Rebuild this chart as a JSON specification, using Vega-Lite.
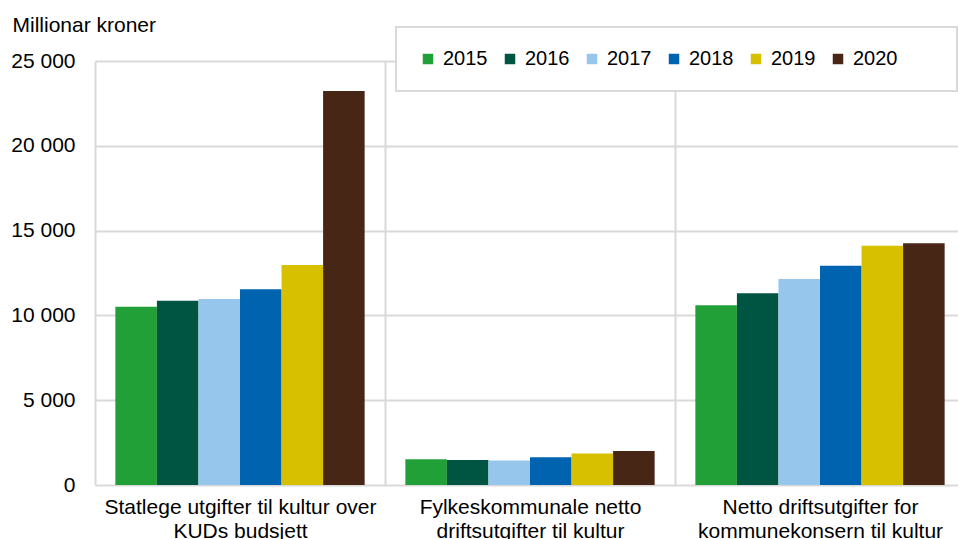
{
  "$schema": "https://vega.github.io/schema/vega-lite/v6.json",
  "width": 870,
  "height": 424,
  "autosize": "none",
  "padding": {"left": 95, "top": 61, "right": 0, "bottom": 54},
  "background": "white",
  "data": {
    "values": [
      {"category": "Statlege utgifter til kultur over|KUDs budsjett", "year": "2015", "value": 10510},
      {"category": "Statlege utgifter til kultur over|KUDs budsjett", "year": "2016", "value": 10870},
      {"category": "Statlege utgifter til kultur over|KUDs budsjett", "year": "2017", "value": 10970},
      {"category": "Statlege utgifter til kultur over|KUDs budsjett", "year": "2018", "value": 11540},
      {"category": "Statlege utgifter til kultur over|KUDs budsjett", "year": "2019", "value": 12970},
      {"category": "Statlege utgifter til kultur over|KUDs budsjett", "year": "2020", "value": 23230},
      {"category": "Fylkeskommunale netto|driftsutgifter til kultur", "year": "2015", "value": 1515},
      {"category": "Fylkeskommunale netto|driftsutgifter til kultur", "year": "2016", "value": 1470},
      {"category": "Fylkeskommunale netto|driftsutgifter til kultur", "year": "2017", "value": 1450},
      {"category": "Fylkeskommunale netto|driftsutgifter til kultur", "year": "2018", "value": 1630},
      {"category": "Fylkeskommunale netto|driftsutgifter til kultur", "year": "2019", "value": 1850},
      {"category": "Fylkeskommunale netto|driftsutgifter til kultur", "year": "2020", "value": 2000},
      {"category": "Netto driftsutgifter for|kommunekonsern til kultur", "year": "2015", "value": 10600},
      {"category": "Netto driftsutgifter for|kommunekonsern til kultur", "year": "2016", "value": 11300},
      {"category": "Netto driftsutgifter for|kommunekonsern til kultur", "year": "2017", "value": 12150},
      {"category": "Netto driftsutgifter for|kommunekonsern til kultur", "year": "2018", "value": 12930},
      {"category": "Netto driftsutgifter for|kommunekonsern til kultur", "year": "2019", "value": 14110},
      {"category": "Netto driftsutgifter for|kommunekonsern til kultur", "year": "2020", "value": 14250}
    ]
  },
  "mark": {"type": "bar"},
  "encoding": {
    "x": {
      "field": "category",
      "type": "nominal",
      "sort": null,
      "scale": {"paddingInner": 0, "paddingOuter": 0},
      "axis": {
        "title": null,
        "labelAngle": 0,
        "labelExpr": "split(datum.label, '|')",
        "labelFont": "Liberation Sans",
        "labelFontSize": 21,
        "labelColor": "#000000",
        "labelBaseline": "top",
        "labelPadding": 11,
        "labelLineHeight": 24,
        "labelLimit": 400,
        "ticks": false,
        "domain": false,
        "grid": true,
        "tickBand": "extent",
        "gridColor": "#d9d9d9",
        "gridWidth": 2
      }
    },
    "xOffset": {
      "field": "year",
      "type": "nominal",
      "scale": {"paddingInner": 0, "paddingOuter": 0.49}
    },
    "y": {
      "field": "value",
      "type": "quantitative",
      "scale": {"domain": [0, 25000], "nice": false},
      "axis": {
        "values": [0, 5000, 10000, 15000, 20000, 25000],
        "labelExpr": "replace(format(datum.value, ','), ',', ' ')",
        "labelFont": "Liberation Sans",
        "labelFontSize": 21,
        "labelColor": "#000000",
        "labelPadding": 20,
        "tickSize": 0,
        "ticks": false,
        "domain": false,
        "grid": true,
        "gridColor": "#d9d9d9",
        "gridWidth": 2,
        "title": "Millionar kroner",
        "titleAngle": 0,
        "titleAlign": "left",
        "titleBaseline": "alphabetic",
        "titleX": -83,
        "titleY": -30,
        "titleFont": "Liberation Sans",
        "titleFontSize": 21,
        "titleFontWeight": "normal",
        "titleColor": "#000000"
      }
    },
    "color": {
      "field": "year",
      "type": "nominal",
      "scale": {
        "domain": ["2015", "2016", "2017", "2018", "2019", "2020"],
        "range": ["#22a038", "#005542", "#96c6ec", "#0063b0", "#d6c000", "#472615"]
      },
      "legend": {
        "title": " ",
        "titleOrient": "right",
        "titlePadding": 38,
        "titleFontSize": 20,
        "orient": "none",
        "direction": "horizontal",
        "legendX": 301,
        "legendY": -34,
        "padding": 22,
        "fillColor": "white",
        "strokeColor": "#d9d9d9",
        "symbolType": "square",
        "symbolSize": 110,
        "symbolStrokeWidth": 0,
        "labelFont": "Liberation Sans",
        "labelFontSize": 20,
        "labelColor": "#000000",
        "labelOffset": 5,
        "columnPadding": 12,
        "encode": {"legend": {"update": {"strokeWidth": {"value": 2}}}}
      }
    }
  },
  "config": {
    "view": {"stroke": null}
  }
}
